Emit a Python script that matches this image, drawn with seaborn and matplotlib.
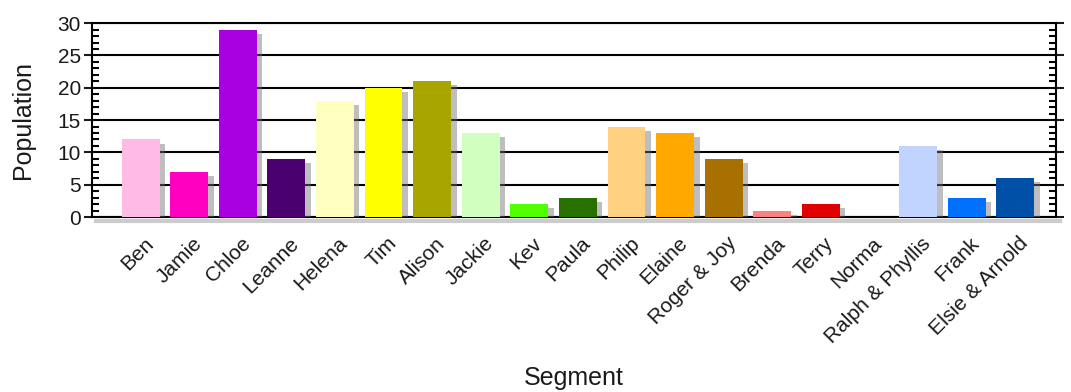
import matplotlib
matplotlib.use("Agg")
import matplotlib.pyplot as plt
import matplotlib.patheffects as pe
import matplotlib.transforms as mtransforms
from matplotlib.ticker import MultipleLocator, FixedLocator
import seaborn as sns

categories = ["Ben", "Jamie", "Chloe", "Leanne", "Helena", "Tim", "Alison", "Jackie",
              "Kev", "Paula", "Philip", "Elaine", "Roger & Joy", "Brenda", "Terry",
              "Norma", "Ralph & Phyllis", "Frank", "Elsie & Arnold"]
values = [12, 7, 29, 9, 18, 20, 21, 13, 2, 3, 14, 13, 9, 1, 2, 0, 11, 3, 6]
colors = ["#FFBBE6", "#FF00C0", "#A800E0", "#4B0070", "#FFFFC0", "#FFFF00", "#A8A400",
          "#D0FFC0", "#50FF00", "#287000", "#FFD080", "#FFA800", "#A87000", "#FF8080",
          "#E00000", "#FFFFFF", "#C0D4FF", "#0070FF", "#0050A8"]

sns.set_style("white")
plt.rcParams['font.family'] = ['Liberation Sans', 'DejaVu Sans']

fig = plt.figure(figsize=(10.71, 3.92), dpi=100)
ax = fig.add_axes([0.0859, 0.4464, 0.9001, 0.4946])

sns.barplot(x=categories, y=values, hue=categories, palette=colors, legend=False,
            width=0.78, saturation=1, ax=ax, zorder=3, linewidth=0)

shadow = [pe.SimplePatchShadow(offset=(4, -3), shadow_rgbFace="#707070", alpha=0.45), pe.Normal()]
for p in ax.patches:
    if p.get_height() > 0:
        p.set_path_effects(shadow)

ax.set_xlim(-1.0, 18.84)
ax.set_ylim(0, 30)

ax.yaxis.set_major_locator(MultipleLocator(5))
ax.yaxis.set_minor_locator(MultipleLocator(1))
ax.grid(axis="y", which="major", color="black", linewidth=1.5, zorder=1)
ax.set_axisbelow(True)

ax.set_xticks(range(len(categories)))
ax.set_xticklabels(categories, rotation=45, ha="right", rotation_mode="anchor")
ax.xaxis.set_minor_locator(FixedLocator([4, 9, 14]))
ax.tick_params(axis="x", which="major", length=0, pad=12, labelsize=15, colors="#1a1a1a")
ax.tick_params(axis="x", which="minor", length=6, width=1, direction="inout",
               top=True, bottom=True, color="black")
ax.tick_params(axis="y", which="major", length=6, width=1.5, direction="out",
               left=True, right=True, labelsize=15, pad=2, colors="#1a1a1a")
ax.tick_params(axis="y", which="minor", length=5, width=1.5, direction="in",
               left=True, right=True, color="black")

offset = mtransforms.ScaledTranslation(3 / 100, 0, fig.dpi_scale_trans)
for lbl in ax.get_xticklabels():
    lbl.set_transform(lbl.get_transform() + offset)

for s in ax.spines.values():
    s.set_visible(True)
    s.set_color("black")
    s.set_linewidth(1.5)
ax.spines["bottom"].set_path_effects([pe.SimpleLineShadow(offset=(3, -3), shadow_color="#808080", alpha=0.4, linewidth=3), pe.Normal()])

ax.set_xlabel("Segment", fontsize=18, color="#1a1a1a", labelpad=14)
ax.set_ylabel("Population", fontsize=18, color="#1a1a1a", labelpad=16)

fig.savefig("out.png", dpi=100)
